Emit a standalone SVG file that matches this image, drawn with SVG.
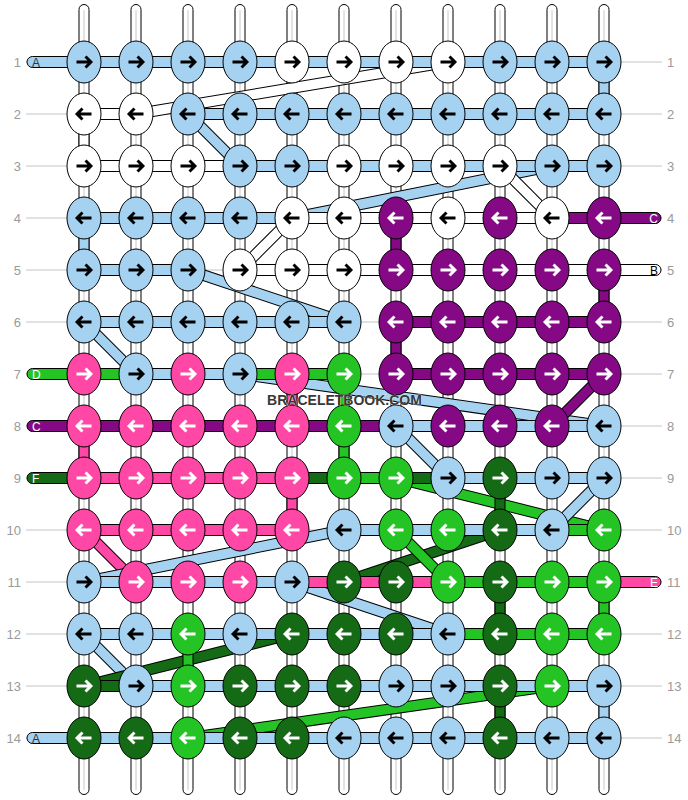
<svg xmlns="http://www.w3.org/2000/svg" xmlns:xlink="http://www.w3.org/1999/xlink" width="688" height="800" viewBox="0 0 688 800">
<style>
.gl{stroke:#c4c4c4;stroke-width:1}
.wp{fill:#fff;stroke:#000;stroke-width:1}
.wl{stroke:#c8c8c8;stroke-width:1}
.br rect,rect.br{stroke:#000;stroke-width:1}
.o{stroke:#000;stroke-width:11.5}
.f{stroke-width:9.5}
.sb{stroke:#a6d2f2}.sw{stroke:#fff}.sp{stroke:#850885}.sk{stroke:#ff47a6}.sg{stroke:#24c424}.sd{stroke:#156a15}
.b{fill:#a6d2f2}.w{fill:#fff}.p{fill:#850885}.k{fill:#ff47a6}.g{fill:#24c424}.d{fill:#156a15}
ellipse{stroke:#000;stroke-width:1}
.tab{stroke:#000;stroke-width:1}
.ak{stroke:#000}.aw{stroke:#fff}
.lb{font-family:"Liberation Sans",Arial,sans-serif;font-size:13px;fill:#9a9a9a}
.tl{font-family:"Liberation Sans",Arial,sans-serif;font-size:12px}
.wm{font-family:"Liberation Sans",Arial,sans-serif;font-size:14px;font-weight:bold;fill:#383838;stroke:#fff;stroke-width:0.6;paint-order:stroke}
</style>
<defs>
<path id="R" d="M-7.5,0H6.5M1.5,-5.5L7,0L1.5,5.5" fill="none" stroke-width="2.9"/>
<path id="L" d="M7.5,0H-6.5M-1.5,-5.5L-7,0L-1.5,5.5" fill="none" stroke-width="2.9"/>
</defs>
<g id="rowlines">
<line class="gl" x1="26" y1="62" x2="662" y2="62"/><line class="gl" x1="26" y1="114" x2="662" y2="114"/><line class="gl" x1="26" y1="166" x2="662" y2="166"/><line class="gl" x1="26" y1="218" x2="662" y2="218"/><line class="gl" x1="26" y1="270" x2="662" y2="270"/><line class="gl" x1="26" y1="322" x2="662" y2="322"/><line class="gl" x1="26" y1="374" x2="662" y2="374"/><line class="gl" x1="26" y1="426" x2="662" y2="426"/><line class="gl" x1="26" y1="478" x2="662" y2="478"/><line class="gl" x1="26" y1="530" x2="662" y2="530"/><line class="gl" x1="26" y1="582" x2="662" y2="582"/><line class="gl" x1="26" y1="634" x2="662" y2="634"/><line class="gl" x1="26" y1="686" x2="662" y2="686"/><line class="gl" x1="26" y1="738" x2="662" y2="738"/>
</g>
<g id="warps">
<rect class="wp" x="79" y="4.5" width="10" height="790" rx="5"/><rect class="wp" x="131" y="4.5" width="10" height="790" rx="5"/><rect class="wp" x="183" y="4.5" width="10" height="790" rx="5"/><rect class="wp" x="235" y="4.5" width="10" height="790" rx="5"/><rect class="wp" x="287" y="4.5" width="10" height="790" rx="5"/><rect class="wp" x="339" y="4.5" width="10" height="790" rx="5"/><rect class="wp" x="391" y="4.5" width="10" height="790" rx="5"/><rect class="wp" x="443" y="4.5" width="10" height="790" rx="5"/><rect class="wp" x="495" y="4.5" width="10" height="790" rx="5"/><rect class="wp" x="547" y="4.5" width="10" height="790" rx="5"/><rect class="wp" x="599" y="4.5" width="10" height="790" rx="5"/>
<line class="wl" x1="84" y1="10" x2="84" y2="790"/><line class="wl" x1="136" y1="10" x2="136" y2="790"/><line class="wl" x1="188" y1="10" x2="188" y2="790"/><line class="wl" x1="240" y1="10" x2="240" y2="790"/><line class="wl" x1="292" y1="10" x2="292" y2="790"/><line class="wl" x1="344" y1="10" x2="344" y2="790"/><line class="wl" x1="396" y1="10" x2="396" y2="790"/><line class="wl" x1="448" y1="10" x2="448" y2="790"/><line class="wl" x1="500" y1="10" x2="500" y2="790"/><line class="wl" x1="552" y1="10" x2="552" y2="790"/><line class="wl" x1="604" y1="10" x2="604" y2="790"/>
</g>
<g id="connectors">
<g id="diagonals">
<line class="o" x1="136" y1="114" x2="448" y2="62"/><line class="f sw" x1="136" y1="114" x2="448" y2="62"/>
<line class="o" x1="188" y1="114" x2="240" y2="166"/><line class="f sb" x1="188" y1="114" x2="240" y2="166"/>
<line class="o" x1="552" y1="166" x2="292" y2="218"/><line class="f sb" x1="552" y1="166" x2="292" y2="218"/>
<line class="o" x1="500" y1="166" x2="552" y2="218"/><line class="f sw" x1="500" y1="166" x2="552" y2="218"/>
<line class="o" x1="240" y1="270" x2="292" y2="218"/><line class="f sw" x1="240" y1="270" x2="292" y2="218"/>
<line class="o" x1="188" y1="270" x2="344" y2="322"/><line class="f sb" x1="188" y1="270" x2="344" y2="322"/>
<line class="o" x1="84" y1="322" x2="136" y2="374"/><line class="f sb" x1="84" y1="322" x2="136" y2="374"/>
<line class="o" x1="240" y1="374" x2="604" y2="426"/><line class="f sb" x1="240" y1="374" x2="604" y2="426"/>
<line class="o" x1="552" y1="426" x2="604" y2="374"/><line class="f sp" x1="552" y1="426" x2="604" y2="374"/>
<line class="o" x1="396" y1="426" x2="448" y2="478"/><line class="f sb" x1="396" y1="426" x2="448" y2="478"/>
<line class="o" x1="396" y1="478" x2="604" y2="530"/><line class="f sg" x1="396" y1="478" x2="604" y2="530"/>
<line class="o" x1="604" y1="478" x2="552" y2="530"/><line class="f sb" x1="604" y1="478" x2="552" y2="530"/>
<line class="o" x1="84" y1="530" x2="136" y2="582"/><line class="f sk" x1="84" y1="530" x2="136" y2="582"/>
<line class="o" x1="84" y1="582" x2="344" y2="530"/><line class="f sb" x1="84" y1="582" x2="344" y2="530"/>
<line class="o" x1="344" y1="582" x2="500" y2="530"/><line class="f sd" x1="344" y1="582" x2="500" y2="530"/>
<line class="o" x1="396" y1="530" x2="448" y2="582"/><line class="f sg" x1="396" y1="530" x2="448" y2="582"/>
<line class="o" x1="292" y1="582" x2="448" y2="634"/><line class="f sb" x1="292" y1="582" x2="448" y2="634"/>
<line class="o" x1="84" y1="634" x2="136" y2="686"/><line class="f sb" x1="84" y1="634" x2="136" y2="686"/>
<line class="o" x1="84" y1="686" x2="292" y2="634"/><line class="f sd" x1="84" y1="686" x2="292" y2="634"/>
<line class="o" x1="188" y1="738" x2="552" y2="686"/><line class="f sg" x1="188" y1="738" x2="552" y2="686"/>
</g>
<g id="verticals" class="br">
<rect class="b" x="599" y="62" width="10" height="52"/>
<rect class="w" x="79" y="114" width="10" height="52"/>
<rect class="b" x="79" y="218" width="10" height="52"/>
<rect class="p" x="391" y="218" width="10" height="52"/>
<rect class="p" x="599" y="270" width="10" height="52"/>
<rect class="p" x="391" y="322" width="10" height="52"/>
<rect class="g" x="339" y="374" width="10" height="52"/>
<rect class="k" x="287" y="374" width="10" height="52"/>
<rect class="k" x="79" y="426" width="10" height="52"/>
<rect class="g" x="339" y="426" width="10" height="52"/>
<rect class="k" x="287" y="478" width="10" height="52"/>
<rect class="d" x="495" y="478" width="10" height="52"/>
<rect class="d" x="495" y="582" width="10" height="52"/>
<rect class="g" x="599" y="582" width="10" height="52"/>
<rect class="g" x="183" y="634" width="10" height="52"/>
<rect class="d" x="495" y="686" width="10" height="52"/>
<rect class="b" x="599" y="686" width="10" height="52"/>
</g>
<g id="bars" class="br">
<rect class="b" x="84" y="56.5" width="52" height="11"/><rect class="b" x="136" y="56.5" width="52" height="11"/><rect class="b" x="188" y="56.5" width="52" height="11"/><rect class="b" x="240" y="56.5" width="52" height="11"/><rect class="b" x="292" y="56.5" width="52" height="11"/><rect class="b" x="344" y="56.5" width="52" height="11"/><rect class="b" x="396" y="56.5" width="52" height="11"/><rect class="b" x="448" y="56.5" width="52" height="11"/><rect class="b" x="500" y="56.5" width="52" height="11"/><rect class="b" x="552" y="56.5" width="52" height="11"/>
<rect class="w" x="84" y="108.5" width="52" height="11"/><rect class="b" x="188" y="108.5" width="52" height="11"/><rect class="b" x="240" y="108.5" width="52" height="11"/><rect class="b" x="292" y="108.5" width="52" height="11"/><rect class="b" x="344" y="108.5" width="52" height="11"/><rect class="b" x="396" y="108.5" width="52" height="11"/><rect class="b" x="448" y="108.5" width="52" height="11"/><rect class="b" x="500" y="108.5" width="52" height="11"/><rect class="b" x="552" y="108.5" width="52" height="11"/>
<rect class="w" x="84" y="160.5" width="52" height="11"/><rect class="w" x="136" y="160.5" width="52" height="11"/><rect class="w" x="188" y="160.5" width="52" height="11"/><rect class="b" x="240" y="160.5" width="52" height="11"/><rect class="b" x="292" y="160.5" width="52" height="11"/><rect class="b" x="344" y="160.5" width="52" height="11"/><rect class="b" x="396" y="160.5" width="52" height="11"/><rect class="b" x="448" y="160.5" width="52" height="11"/><rect class="b" x="500" y="160.5" width="52" height="11"/><rect class="b" x="552" y="160.5" width="52" height="11"/>
<rect class="b" x="84" y="212.5" width="52" height="11"/><rect class="b" x="136" y="212.5" width="52" height="11"/><rect class="b" x="188" y="212.5" width="52" height="11"/><rect class="b" x="240" y="212.5" width="52" height="11"/><rect class="w" x="292" y="212.5" width="52" height="11"/><rect class="w" x="344" y="212.5" width="52" height="11"/><rect class="w" x="396" y="212.5" width="52" height="11"/><rect class="w" x="448" y="212.5" width="52" height="11"/><rect class="w" x="500" y="212.5" width="52" height="11"/><rect class="p" x="552" y="212.5" width="52" height="11"/>
<rect class="b" x="84" y="264.5" width="52" height="11"/><rect class="b" x="136" y="264.5" width="52" height="11"/><rect class="w" x="240" y="264.5" width="52" height="11"/><rect class="w" x="292" y="264.5" width="52" height="11"/><rect class="w" x="344" y="264.5" width="52" height="11"/><rect class="w" x="396" y="264.5" width="52" height="11"/><rect class="w" x="448" y="264.5" width="52" height="11"/><rect class="w" x="500" y="264.5" width="52" height="11"/><rect class="w" x="552" y="264.5" width="52" height="11"/>
<rect class="b" x="84" y="316.5" width="52" height="11"/><rect class="b" x="136" y="316.5" width="52" height="11"/><rect class="b" x="188" y="316.5" width="52" height="11"/><rect class="b" x="240" y="316.5" width="52" height="11"/><rect class="b" x="292" y="316.5" width="52" height="11"/><rect class="p" x="396" y="316.5" width="52" height="11"/><rect class="p" x="448" y="316.5" width="52" height="11"/><rect class="p" x="500" y="316.5" width="52" height="11"/><rect class="p" x="552" y="316.5" width="52" height="11"/>
<rect class="g" x="84" y="368.5" width="52" height="11"/><rect class="b" x="136" y="368.5" width="52" height="11"/><rect class="b" x="188" y="368.5" width="52" height="11"/><rect class="g" x="240" y="368.5" width="52" height="11"/><rect class="g" x="292" y="368.5" width="52" height="11"/><rect class="p" x="396" y="368.5" width="52" height="11"/><rect class="p" x="448" y="368.5" width="52" height="11"/><rect class="p" x="500" y="368.5" width="52" height="11"/><rect class="p" x="552" y="368.5" width="52" height="11"/>
<rect class="p" x="84" y="420.5" width="52" height="11"/><rect class="p" x="136" y="420.5" width="52" height="11"/><rect class="p" x="188" y="420.5" width="52" height="11"/><rect class="p" x="240" y="420.5" width="52" height="11"/><rect class="p" x="292" y="420.5" width="52" height="11"/><rect class="p" x="344" y="420.5" width="52" height="11"/><rect class="b" x="396" y="420.5" width="52" height="11"/><rect class="b" x="448" y="420.5" width="52" height="11"/><rect class="b" x="500" y="420.5" width="52" height="11"/><rect class="b" x="552" y="420.5" width="52" height="11"/>
<rect class="k" x="84" y="472.5" width="52" height="11"/><rect class="k" x="136" y="472.5" width="52" height="11"/><rect class="k" x="188" y="472.5" width="52" height="11"/><rect class="k" x="240" y="472.5" width="52" height="11"/><rect class="d" x="292" y="472.5" width="52" height="11"/><rect class="g" x="344" y="472.5" width="52" height="11"/><rect class="d" x="396" y="472.5" width="52" height="11"/><rect class="b" x="448" y="472.5" width="52" height="11"/><rect class="b" x="500" y="472.5" width="52" height="11"/><rect class="b" x="552" y="472.5" width="52" height="11"/>
<rect class="k" x="84" y="524.5" width="52" height="11"/><rect class="k" x="136" y="524.5" width="52" height="11"/><rect class="k" x="188" y="524.5" width="52" height="11"/><rect class="k" x="240" y="524.5" width="52" height="11"/><rect class="b" x="344" y="524.5" width="52" height="11"/><rect class="b" x="396" y="524.5" width="52" height="11"/><rect class="b" x="448" y="524.5" width="52" height="11"/><rect class="b" x="500" y="524.5" width="52" height="11"/><rect class="g" x="552" y="524.5" width="52" height="11"/>
<rect class="b" x="84" y="576.5" width="52" height="11"/><rect class="b" x="136" y="576.5" width="52" height="11"/><rect class="b" x="188" y="576.5" width="52" height="11"/><rect class="b" x="240" y="576.5" width="52" height="11"/><rect class="k" x="292" y="576.5" width="52" height="11"/><rect class="k" x="344" y="576.5" width="52" height="11"/><rect class="k" x="396" y="576.5" width="52" height="11"/><rect class="g" x="448" y="576.5" width="52" height="11"/><rect class="g" x="500" y="576.5" width="52" height="11"/><rect class="g" x="552" y="576.5" width="52" height="11"/>
<rect class="b" x="84" y="628.5" width="52" height="11"/><rect class="b" x="136" y="628.5" width="52" height="11"/><rect class="b" x="188" y="628.5" width="52" height="11"/><rect class="b" x="240" y="628.5" width="52" height="11"/><rect class="b" x="292" y="628.5" width="52" height="11"/><rect class="b" x="344" y="628.5" width="52" height="11"/><rect class="b" x="396" y="628.5" width="52" height="11"/><rect class="g" x="448" y="628.5" width="52" height="11"/><rect class="g" x="500" y="628.5" width="52" height="11"/><rect class="g" x="552" y="628.5" width="52" height="11"/>
<rect class="d" x="84" y="680.5" width="52" height="11"/><rect class="b" x="136" y="680.5" width="52" height="11"/><rect class="b" x="188" y="680.5" width="52" height="11"/><rect class="b" x="240" y="680.5" width="52" height="11"/><rect class="b" x="292" y="680.5" width="52" height="11"/><rect class="b" x="344" y="680.5" width="52" height="11"/><rect class="b" x="396" y="680.5" width="52" height="11"/><rect class="b" x="448" y="680.5" width="52" height="11"/><rect class="b" x="500" y="680.5" width="52" height="11"/><rect class="b" x="552" y="680.5" width="52" height="11"/>
<rect class="b" x="84" y="732.5" width="52" height="11"/><rect class="b" x="136" y="732.5" width="52" height="11"/><rect class="b" x="188" y="732.5" width="52" height="11"/><rect class="b" x="240" y="732.5" width="52" height="11"/><rect class="b" x="292" y="732.5" width="52" height="11"/><rect class="b" x="344" y="732.5" width="52" height="11"/><rect class="b" x="396" y="732.5" width="52" height="11"/><rect class="b" x="448" y="732.5" width="52" height="11"/><rect class="b" x="500" y="732.5" width="52" height="11"/><rect class="b" x="552" y="732.5" width="52" height="11"/>
</g>
</g>
<g id="tabs">
<g id="tab-l1"><path class="tab b" d="M84,56.5H32.5A5.5,5.5 0 0 0 32.5,67.5H84Z"/><text class="tl" x="32" y="66.5" fill="#333">A</text></g>
<g id="tab-l7"><path class="tab g" d="M84,368.5H32.5A5.5,5.5 0 0 0 32.5,379.5H84Z"/><text class="tl" x="32" y="378.5" fill="#fff">D</text></g>
<g id="tab-l8"><path class="tab p" d="M84,420.5H32.5A5.5,5.5 0 0 0 32.5,431.5H84Z"/><text class="tl" x="32" y="430.5" fill="#fff">C</text></g>
<g id="tab-l9"><path class="tab d" d="M84,472.5H32.5A5.5,5.5 0 0 0 32.5,483.5H84Z"/><text class="tl" x="32" y="482.5" fill="#fff">F</text></g>
<g id="tab-l14"><path class="tab b" d="M84,732.5H32.5A5.5,5.5 0 0 0 32.5,743.5H84Z"/><text class="tl" x="32" y="742.5" fill="#333">A</text></g>
<g id="tab-r4"><path class="tab p" d="M604,212.5H655.5A5.5,5.5 0 0 1 655.5,223.5H604Z"/><text class="tl" x="658" y="222.5" text-anchor="end" fill="#fff">C</text></g>
<g id="tab-r5"><path class="tab w" d="M604,264.5H655.5A5.5,5.5 0 0 1 655.5,275.5H604Z"/><text class="tl" x="658" y="274.5" text-anchor="end" fill="#000">B</text></g>
<g id="tab-r11"><path class="tab k" d="M604,576.5H655.5A5.5,5.5 0 0 1 655.5,587.5H604Z"/><text class="tl" x="658" y="586.5" text-anchor="end" fill="#fff">E</text></g>
</g>
<g id="knots">
<g id="n1-1"><ellipse class="b" cx="84" cy="62" rx="17" ry="21"/><use href="#R" x="84" y="62" class="ak"/></g>
<g id="n1-2"><ellipse class="b" cx="136" cy="62" rx="17" ry="21"/><use href="#R" x="136" y="62" class="ak"/></g>
<g id="n1-3"><ellipse class="b" cx="188" cy="62" rx="17" ry="21"/><use href="#R" x="188" y="62" class="ak"/></g>
<g id="n1-4"><ellipse class="b" cx="240" cy="62" rx="17" ry="21"/><use href="#R" x="240" y="62" class="ak"/></g>
<g id="n1-5"><ellipse class="w" cx="292" cy="62" rx="17" ry="21"/><use href="#R" x="292" y="62" class="ak"/></g>
<g id="n1-6"><ellipse class="w" cx="344" cy="62" rx="17" ry="21"/><use href="#R" x="344" y="62" class="ak"/></g>
<g id="n1-7"><ellipse class="w" cx="396" cy="62" rx="17" ry="21"/><use href="#R" x="396" y="62" class="ak"/></g>
<g id="n1-8"><ellipse class="w" cx="448" cy="62" rx="17" ry="21"/><use href="#R" x="448" y="62" class="ak"/></g>
<g id="n1-9"><ellipse class="b" cx="500" cy="62" rx="17" ry="21"/><use href="#R" x="500" y="62" class="ak"/></g>
<g id="n1-10"><ellipse class="b" cx="552" cy="62" rx="17" ry="21"/><use href="#R" x="552" y="62" class="ak"/></g>
<g id="n1-11"><ellipse class="b" cx="604" cy="62" rx="17" ry="21"/><use href="#R" x="604" y="62" class="ak"/></g>
<g id="n2-1"><ellipse class="w" cx="84" cy="114" rx="17" ry="21"/><use href="#L" x="84" y="114" class="ak"/></g>
<g id="n2-2"><ellipse class="w" cx="136" cy="114" rx="17" ry="21"/><use href="#L" x="136" y="114" class="ak"/></g>
<g id="n2-3"><ellipse class="b" cx="188" cy="114" rx="17" ry="21"/><use href="#L" x="188" y="114" class="ak"/></g>
<g id="n2-4"><ellipse class="b" cx="240" cy="114" rx="17" ry="21"/><use href="#L" x="240" y="114" class="ak"/></g>
<g id="n2-5"><ellipse class="b" cx="292" cy="114" rx="17" ry="21"/><use href="#L" x="292" y="114" class="ak"/></g>
<g id="n2-6"><ellipse class="b" cx="344" cy="114" rx="17" ry="21"/><use href="#L" x="344" y="114" class="ak"/></g>
<g id="n2-7"><ellipse class="b" cx="396" cy="114" rx="17" ry="21"/><use href="#L" x="396" y="114" class="ak"/></g>
<g id="n2-8"><ellipse class="b" cx="448" cy="114" rx="17" ry="21"/><use href="#L" x="448" y="114" class="ak"/></g>
<g id="n2-9"><ellipse class="b" cx="500" cy="114" rx="17" ry="21"/><use href="#L" x="500" y="114" class="ak"/></g>
<g id="n2-10"><ellipse class="b" cx="552" cy="114" rx="17" ry="21"/><use href="#L" x="552" y="114" class="ak"/></g>
<g id="n2-11"><ellipse class="b" cx="604" cy="114" rx="17" ry="21"/><use href="#L" x="604" y="114" class="ak"/></g>
<g id="n3-1"><ellipse class="w" cx="84" cy="166" rx="17" ry="21"/><use href="#R" x="84" y="166" class="ak"/></g>
<g id="n3-2"><ellipse class="w" cx="136" cy="166" rx="17" ry="21"/><use href="#R" x="136" y="166" class="ak"/></g>
<g id="n3-3"><ellipse class="w" cx="188" cy="166" rx="17" ry="21"/><use href="#R" x="188" y="166" class="ak"/></g>
<g id="n3-4"><ellipse class="b" cx="240" cy="166" rx="17" ry="21"/><use href="#R" x="240" y="166" class="ak"/></g>
<g id="n3-5"><ellipse class="b" cx="292" cy="166" rx="17" ry="21"/><use href="#R" x="292" y="166" class="ak"/></g>
<g id="n3-6"><ellipse class="w" cx="344" cy="166" rx="17" ry="21"/><use href="#R" x="344" y="166" class="ak"/></g>
<g id="n3-7"><ellipse class="w" cx="396" cy="166" rx="17" ry="21"/><use href="#R" x="396" y="166" class="ak"/></g>
<g id="n3-8"><ellipse class="w" cx="448" cy="166" rx="17" ry="21"/><use href="#R" x="448" y="166" class="ak"/></g>
<g id="n3-9"><ellipse class="w" cx="500" cy="166" rx="17" ry="21"/><use href="#R" x="500" y="166" class="ak"/></g>
<g id="n3-10"><ellipse class="b" cx="552" cy="166" rx="17" ry="21"/><use href="#R" x="552" y="166" class="ak"/></g>
<g id="n3-11"><ellipse class="b" cx="604" cy="166" rx="17" ry="21"/><use href="#R" x="604" y="166" class="ak"/></g>
<g id="n4-1"><ellipse class="b" cx="84" cy="218" rx="17" ry="21"/><use href="#L" x="84" y="218" class="ak"/></g>
<g id="n4-2"><ellipse class="b" cx="136" cy="218" rx="17" ry="21"/><use href="#L" x="136" y="218" class="ak"/></g>
<g id="n4-3"><ellipse class="b" cx="188" cy="218" rx="17" ry="21"/><use href="#L" x="188" y="218" class="ak"/></g>
<g id="n4-4"><ellipse class="b" cx="240" cy="218" rx="17" ry="21"/><use href="#L" x="240" y="218" class="ak"/></g>
<g id="n4-5"><ellipse class="w" cx="292" cy="218" rx="17" ry="21"/><use href="#L" x="292" y="218" class="ak"/></g>
<g id="n4-6"><ellipse class="w" cx="344" cy="218" rx="17" ry="21"/><use href="#L" x="344" y="218" class="ak"/></g>
<g id="n4-7"><ellipse class="p" cx="396" cy="218" rx="17" ry="21"/><use href="#L" x="396" y="218" class="aw"/></g>
<g id="n4-8"><ellipse class="w" cx="448" cy="218" rx="17" ry="21"/><use href="#L" x="448" y="218" class="ak"/></g>
<g id="n4-9"><ellipse class="p" cx="500" cy="218" rx="17" ry="21"/><use href="#L" x="500" y="218" class="aw"/></g>
<g id="n4-10"><ellipse class="w" cx="552" cy="218" rx="17" ry="21"/><use href="#L" x="552" y="218" class="ak"/></g>
<g id="n4-11"><ellipse class="p" cx="604" cy="218" rx="17" ry="21"/><use href="#L" x="604" y="218" class="aw"/></g>
<g id="n5-1"><ellipse class="b" cx="84" cy="270" rx="17" ry="21"/><use href="#R" x="84" y="270" class="ak"/></g>
<g id="n5-2"><ellipse class="b" cx="136" cy="270" rx="17" ry="21"/><use href="#R" x="136" y="270" class="ak"/></g>
<g id="n5-3"><ellipse class="b" cx="188" cy="270" rx="17" ry="21"/><use href="#R" x="188" y="270" class="ak"/></g>
<g id="n5-4"><ellipse class="w" cx="240" cy="270" rx="17" ry="21"/><use href="#R" x="240" y="270" class="ak"/></g>
<g id="n5-5"><ellipse class="w" cx="292" cy="270" rx="17" ry="21"/><use href="#R" x="292" y="270" class="ak"/></g>
<g id="n5-6"><ellipse class="w" cx="344" cy="270" rx="17" ry="21"/><use href="#R" x="344" y="270" class="ak"/></g>
<g id="n5-7"><ellipse class="p" cx="396" cy="270" rx="17" ry="21"/><use href="#R" x="396" y="270" class="aw"/></g>
<g id="n5-8"><ellipse class="p" cx="448" cy="270" rx="17" ry="21"/><use href="#R" x="448" y="270" class="aw"/></g>
<g id="n5-9"><ellipse class="p" cx="500" cy="270" rx="17" ry="21"/><use href="#R" x="500" y="270" class="aw"/></g>
<g id="n5-10"><ellipse class="p" cx="552" cy="270" rx="17" ry="21"/><use href="#R" x="552" y="270" class="aw"/></g>
<g id="n5-11"><ellipse class="p" cx="604" cy="270" rx="17" ry="21"/><use href="#R" x="604" y="270" class="aw"/></g>
<g id="n6-1"><ellipse class="b" cx="84" cy="322" rx="17" ry="21"/><use href="#L" x="84" y="322" class="ak"/></g>
<g id="n6-2"><ellipse class="b" cx="136" cy="322" rx="17" ry="21"/><use href="#L" x="136" y="322" class="ak"/></g>
<g id="n6-3"><ellipse class="b" cx="188" cy="322" rx="17" ry="21"/><use href="#L" x="188" y="322" class="ak"/></g>
<g id="n6-4"><ellipse class="b" cx="240" cy="322" rx="17" ry="21"/><use href="#L" x="240" y="322" class="ak"/></g>
<g id="n6-5"><ellipse class="b" cx="292" cy="322" rx="17" ry="21"/><use href="#L" x="292" y="322" class="ak"/></g>
<g id="n6-6"><ellipse class="b" cx="344" cy="322" rx="17" ry="21"/><use href="#L" x="344" y="322" class="ak"/></g>
<g id="n6-7"><ellipse class="p" cx="396" cy="322" rx="17" ry="21"/><use href="#L" x="396" y="322" class="aw"/></g>
<g id="n6-8"><ellipse class="p" cx="448" cy="322" rx="17" ry="21"/><use href="#L" x="448" y="322" class="aw"/></g>
<g id="n6-9"><ellipse class="p" cx="500" cy="322" rx="17" ry="21"/><use href="#L" x="500" y="322" class="aw"/></g>
<g id="n6-10"><ellipse class="p" cx="552" cy="322" rx="17" ry="21"/><use href="#L" x="552" y="322" class="aw"/></g>
<g id="n6-11"><ellipse class="p" cx="604" cy="322" rx="17" ry="21"/><use href="#L" x="604" y="322" class="aw"/></g>
<g id="n7-1"><ellipse class="k" cx="84" cy="374" rx="17" ry="21"/><use href="#R" x="84" y="374" class="aw"/></g>
<g id="n7-2"><ellipse class="b" cx="136" cy="374" rx="17" ry="21"/><use href="#R" x="136" y="374" class="ak"/></g>
<g id="n7-3"><ellipse class="k" cx="188" cy="374" rx="17" ry="21"/><use href="#R" x="188" y="374" class="aw"/></g>
<g id="n7-4"><ellipse class="b" cx="240" cy="374" rx="17" ry="21"/><use href="#R" x="240" y="374" class="ak"/></g>
<g id="n7-5"><ellipse class="k" cx="292" cy="374" rx="17" ry="21"/><use href="#R" x="292" y="374" class="aw"/></g>
<g id="n7-6"><ellipse class="g" cx="344" cy="374" rx="17" ry="21"/><use href="#R" x="344" y="374" class="aw"/></g>
<g id="n7-7"><ellipse class="p" cx="396" cy="374" rx="17" ry="21"/><use href="#R" x="396" y="374" class="aw"/></g>
<g id="n7-8"><ellipse class="p" cx="448" cy="374" rx="17" ry="21"/><use href="#R" x="448" y="374" class="aw"/></g>
<g id="n7-9"><ellipse class="p" cx="500" cy="374" rx="17" ry="21"/><use href="#R" x="500" y="374" class="aw"/></g>
<g id="n7-10"><ellipse class="p" cx="552" cy="374" rx="17" ry="21"/><use href="#R" x="552" y="374" class="aw"/></g>
<g id="n7-11"><ellipse class="p" cx="604" cy="374" rx="17" ry="21"/><use href="#R" x="604" y="374" class="aw"/></g>
<g id="n8-1"><ellipse class="k" cx="84" cy="426" rx="17" ry="21"/><use href="#L" x="84" y="426" class="aw"/></g>
<g id="n8-2"><ellipse class="k" cx="136" cy="426" rx="17" ry="21"/><use href="#L" x="136" y="426" class="aw"/></g>
<g id="n8-3"><ellipse class="k" cx="188" cy="426" rx="17" ry="21"/><use href="#L" x="188" y="426" class="aw"/></g>
<g id="n8-4"><ellipse class="k" cx="240" cy="426" rx="17" ry="21"/><use href="#L" x="240" y="426" class="aw"/></g>
<g id="n8-5"><ellipse class="k" cx="292" cy="426" rx="17" ry="21"/><use href="#L" x="292" y="426" class="aw"/></g>
<g id="n8-6"><ellipse class="g" cx="344" cy="426" rx="17" ry="21"/><use href="#L" x="344" y="426" class="aw"/></g>
<g id="n8-7"><ellipse class="b" cx="396" cy="426" rx="17" ry="21"/><use href="#L" x="396" y="426" class="ak"/></g>
<g id="n8-8"><ellipse class="p" cx="448" cy="426" rx="17" ry="21"/><use href="#L" x="448" y="426" class="aw"/></g>
<g id="n8-9"><ellipse class="p" cx="500" cy="426" rx="17" ry="21"/><use href="#L" x="500" y="426" class="aw"/></g>
<g id="n8-10"><ellipse class="p" cx="552" cy="426" rx="17" ry="21"/><use href="#L" x="552" y="426" class="aw"/></g>
<g id="n8-11"><ellipse class="b" cx="604" cy="426" rx="17" ry="21"/><use href="#L" x="604" y="426" class="ak"/></g>
<g id="n9-1"><ellipse class="k" cx="84" cy="478" rx="17" ry="21"/><use href="#R" x="84" y="478" class="aw"/></g>
<g id="n9-2"><ellipse class="k" cx="136" cy="478" rx="17" ry="21"/><use href="#R" x="136" y="478" class="aw"/></g>
<g id="n9-3"><ellipse class="k" cx="188" cy="478" rx="17" ry="21"/><use href="#R" x="188" y="478" class="aw"/></g>
<g id="n9-4"><ellipse class="k" cx="240" cy="478" rx="17" ry="21"/><use href="#R" x="240" y="478" class="aw"/></g>
<g id="n9-5"><ellipse class="k" cx="292" cy="478" rx="17" ry="21"/><use href="#R" x="292" y="478" class="aw"/></g>
<g id="n9-6"><ellipse class="g" cx="344" cy="478" rx="17" ry="21"/><use href="#R" x="344" y="478" class="aw"/></g>
<g id="n9-7"><ellipse class="g" cx="396" cy="478" rx="17" ry="21"/><use href="#R" x="396" y="478" class="aw"/></g>
<g id="n9-8"><ellipse class="b" cx="448" cy="478" rx="17" ry="21"/><use href="#R" x="448" y="478" class="ak"/></g>
<g id="n9-9"><ellipse class="d" cx="500" cy="478" rx="17" ry="21"/><use href="#R" x="500" y="478" class="aw"/></g>
<g id="n9-10"><ellipse class="b" cx="552" cy="478" rx="17" ry="21"/><use href="#R" x="552" y="478" class="ak"/></g>
<g id="n9-11"><ellipse class="b" cx="604" cy="478" rx="17" ry="21"/><use href="#R" x="604" y="478" class="ak"/></g>
<g id="n10-1"><ellipse class="k" cx="84" cy="530" rx="17" ry="21"/><use href="#L" x="84" y="530" class="aw"/></g>
<g id="n10-2"><ellipse class="k" cx="136" cy="530" rx="17" ry="21"/><use href="#L" x="136" y="530" class="aw"/></g>
<g id="n10-3"><ellipse class="k" cx="188" cy="530" rx="17" ry="21"/><use href="#L" x="188" y="530" class="aw"/></g>
<g id="n10-4"><ellipse class="k" cx="240" cy="530" rx="17" ry="21"/><use href="#L" x="240" y="530" class="aw"/></g>
<g id="n10-5"><ellipse class="k" cx="292" cy="530" rx="17" ry="21"/><use href="#L" x="292" y="530" class="aw"/></g>
<g id="n10-6"><ellipse class="b" cx="344" cy="530" rx="17" ry="21"/><use href="#L" x="344" y="530" class="ak"/></g>
<g id="n10-7"><ellipse class="g" cx="396" cy="530" rx="17" ry="21"/><use href="#L" x="396" y="530" class="aw"/></g>
<g id="n10-8"><ellipse class="g" cx="448" cy="530" rx="17" ry="21"/><use href="#L" x="448" y="530" class="aw"/></g>
<g id="n10-9"><ellipse class="d" cx="500" cy="530" rx="17" ry="21"/><use href="#L" x="500" y="530" class="aw"/></g>
<g id="n10-10"><ellipse class="b" cx="552" cy="530" rx="17" ry="21"/><use href="#L" x="552" y="530" class="ak"/></g>
<g id="n10-11"><ellipse class="g" cx="604" cy="530" rx="17" ry="21"/><use href="#L" x="604" y="530" class="aw"/></g>
<g id="n11-1"><ellipse class="b" cx="84" cy="582" rx="17" ry="21"/><use href="#R" x="84" y="582" class="ak"/></g>
<g id="n11-2"><ellipse class="k" cx="136" cy="582" rx="17" ry="21"/><use href="#R" x="136" y="582" class="aw"/></g>
<g id="n11-3"><ellipse class="k" cx="188" cy="582" rx="17" ry="21"/><use href="#R" x="188" y="582" class="aw"/></g>
<g id="n11-4"><ellipse class="k" cx="240" cy="582" rx="17" ry="21"/><use href="#R" x="240" y="582" class="aw"/></g>
<g id="n11-5"><ellipse class="b" cx="292" cy="582" rx="17" ry="21"/><use href="#R" x="292" y="582" class="ak"/></g>
<g id="n11-6"><ellipse class="d" cx="344" cy="582" rx="17" ry="21"/><use href="#R" x="344" y="582" class="aw"/></g>
<g id="n11-7"><ellipse class="d" cx="396" cy="582" rx="17" ry="21"/><use href="#R" x="396" y="582" class="aw"/></g>
<g id="n11-8"><ellipse class="g" cx="448" cy="582" rx="17" ry="21"/><use href="#R" x="448" y="582" class="aw"/></g>
<g id="n11-9"><ellipse class="d" cx="500" cy="582" rx="17" ry="21"/><use href="#R" x="500" y="582" class="aw"/></g>
<g id="n11-10"><ellipse class="g" cx="552" cy="582" rx="17" ry="21"/><use href="#R" x="552" y="582" class="aw"/></g>
<g id="n11-11"><ellipse class="g" cx="604" cy="582" rx="17" ry="21"/><use href="#R" x="604" y="582" class="aw"/></g>
<g id="n12-1"><ellipse class="b" cx="84" cy="634" rx="17" ry="21"/><use href="#L" x="84" y="634" class="ak"/></g>
<g id="n12-2"><ellipse class="b" cx="136" cy="634" rx="17" ry="21"/><use href="#L" x="136" y="634" class="ak"/></g>
<g id="n12-3"><ellipse class="g" cx="188" cy="634" rx="17" ry="21"/><use href="#L" x="188" y="634" class="aw"/></g>
<g id="n12-4"><ellipse class="b" cx="240" cy="634" rx="17" ry="21"/><use href="#L" x="240" y="634" class="ak"/></g>
<g id="n12-5"><ellipse class="d" cx="292" cy="634" rx="17" ry="21"/><use href="#L" x="292" y="634" class="aw"/></g>
<g id="n12-6"><ellipse class="d" cx="344" cy="634" rx="17" ry="21"/><use href="#L" x="344" y="634" class="aw"/></g>
<g id="n12-7"><ellipse class="d" cx="396" cy="634" rx="17" ry="21"/><use href="#L" x="396" y="634" class="aw"/></g>
<g id="n12-8"><ellipse class="b" cx="448" cy="634" rx="17" ry="21"/><use href="#L" x="448" y="634" class="ak"/></g>
<g id="n12-9"><ellipse class="d" cx="500" cy="634" rx="17" ry="21"/><use href="#L" x="500" y="634" class="aw"/></g>
<g id="n12-10"><ellipse class="g" cx="552" cy="634" rx="17" ry="21"/><use href="#L" x="552" y="634" class="aw"/></g>
<g id="n12-11"><ellipse class="g" cx="604" cy="634" rx="17" ry="21"/><use href="#L" x="604" y="634" class="aw"/></g>
<g id="n13-1"><ellipse class="d" cx="84" cy="686" rx="17" ry="21"/><use href="#R" x="84" y="686" class="aw"/></g>
<g id="n13-2"><ellipse class="b" cx="136" cy="686" rx="17" ry="21"/><use href="#R" x="136" y="686" class="ak"/></g>
<g id="n13-3"><ellipse class="g" cx="188" cy="686" rx="17" ry="21"/><use href="#R" x="188" y="686" class="aw"/></g>
<g id="n13-4"><ellipse class="d" cx="240" cy="686" rx="17" ry="21"/><use href="#R" x="240" y="686" class="aw"/></g>
<g id="n13-5"><ellipse class="d" cx="292" cy="686" rx="17" ry="21"/><use href="#R" x="292" y="686" class="aw"/></g>
<g id="n13-6"><ellipse class="d" cx="344" cy="686" rx="17" ry="21"/><use href="#R" x="344" y="686" class="aw"/></g>
<g id="n13-7"><ellipse class="b" cx="396" cy="686" rx="17" ry="21"/><use href="#R" x="396" y="686" class="ak"/></g>
<g id="n13-8"><ellipse class="b" cx="448" cy="686" rx="17" ry="21"/><use href="#R" x="448" y="686" class="ak"/></g>
<g id="n13-9"><ellipse class="d" cx="500" cy="686" rx="17" ry="21"/><use href="#R" x="500" y="686" class="aw"/></g>
<g id="n13-10"><ellipse class="g" cx="552" cy="686" rx="17" ry="21"/><use href="#R" x="552" y="686" class="aw"/></g>
<g id="n13-11"><ellipse class="b" cx="604" cy="686" rx="17" ry="21"/><use href="#R" x="604" y="686" class="ak"/></g>
<g id="n14-1"><ellipse class="d" cx="84" cy="738" rx="17" ry="21"/><use href="#L" x="84" y="738" class="aw"/></g>
<g id="n14-2"><ellipse class="d" cx="136" cy="738" rx="17" ry="21"/><use href="#L" x="136" y="738" class="aw"/></g>
<g id="n14-3"><ellipse class="g" cx="188" cy="738" rx="17" ry="21"/><use href="#L" x="188" y="738" class="aw"/></g>
<g id="n14-4"><ellipse class="d" cx="240" cy="738" rx="17" ry="21"/><use href="#L" x="240" y="738" class="aw"/></g>
<g id="n14-5"><ellipse class="d" cx="292" cy="738" rx="17" ry="21"/><use href="#L" x="292" y="738" class="aw"/></g>
<g id="n14-6"><ellipse class="b" cx="344" cy="738" rx="17" ry="21"/><use href="#L" x="344" y="738" class="ak"/></g>
<g id="n14-7"><ellipse class="b" cx="396" cy="738" rx="17" ry="21"/><use href="#L" x="396" y="738" class="ak"/></g>
<g id="n14-8"><ellipse class="b" cx="448" cy="738" rx="17" ry="21"/><use href="#L" x="448" y="738" class="ak"/></g>
<g id="n14-9"><ellipse class="d" cx="500" cy="738" rx="17" ry="21"/><use href="#L" x="500" y="738" class="aw"/></g>
<g id="n14-10"><ellipse class="b" cx="552" cy="738" rx="17" ry="21"/><use href="#L" x="552" y="738" class="ak"/></g>
<g id="n14-11"><ellipse class="b" cx="604" cy="738" rx="17" ry="21"/><use href="#L" x="604" y="738" class="ak"/></g>
</g>
<g id="labels">
<text class="lb" x="21" y="66.5" text-anchor="end">1</text><text class="lb" x="21" y="118.5" text-anchor="end">2</text><text class="lb" x="21" y="170.5" text-anchor="end">3</text><text class="lb" x="21" y="222.5" text-anchor="end">4</text><text class="lb" x="21" y="274.5" text-anchor="end">5</text><text class="lb" x="21" y="326.5" text-anchor="end">6</text><text class="lb" x="21" y="378.5" text-anchor="end">7</text><text class="lb" x="21" y="430.5" text-anchor="end">8</text><text class="lb" x="21" y="482.5" text-anchor="end">9</text><text class="lb" x="21" y="534.5" text-anchor="end">10</text><text class="lb" x="21" y="586.5" text-anchor="end">11</text><text class="lb" x="21" y="638.5" text-anchor="end">12</text><text class="lb" x="21" y="690.5" text-anchor="end">13</text><text class="lb" x="21" y="742.5" text-anchor="end">14</text>
<text class="lb" x="667" y="66.5">1</text><text class="lb" x="667" y="118.5">2</text><text class="lb" x="667" y="170.5">3</text><text class="lb" x="667" y="222.5">4</text><text class="lb" x="667" y="274.5">5</text><text class="lb" x="667" y="326.5">6</text><text class="lb" x="667" y="378.5">7</text><text class="lb" x="667" y="430.5">8</text><text class="lb" x="667" y="482.5">9</text><text class="lb" x="667" y="534.5">10</text><text class="lb" x="667" y="586.5">11</text><text class="lb" x="667" y="638.5">12</text><text class="lb" x="667" y="690.5">13</text><text class="lb" x="667" y="742.5">14</text>
</g>
<text class="wm" x="344.5" y="405" text-anchor="middle">BRACELETBOOK.COM</text>
</svg>
